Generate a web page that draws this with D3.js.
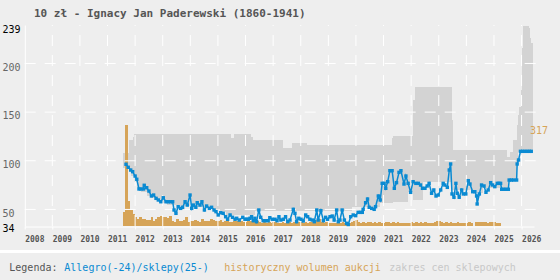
<!DOCTYPE html>
<html>
<head>
<meta charset="utf-8">
<script src="https://cdnjs.cloudflare.com/ajax/libs/d3/7.8.5/d3.min.js"></script>
<style>
    body { margin: 0; background: #fff; }
    svg { display: block; font-family: "DejaVu Sans Mono", monospace; }
</style>
</head>
<body>
<script>
    // tick labels
    var yearTicks = [2008, 2009, 2010, 2011, 2012, 2013, 2014, 2015, 2016, 2017, 2018, 2019, 2020, 2021, 2022, 2023, 2024, 2025, 2026];
    var priceTicks = [34, 50, 100, 150, 200, 239];
    var gridTicks = [50, 100, 150, 200];

    // Allegro / sklepy price: [year, zl]
    var priceSeries = [
        [2011.67, 96.4], [2011.75, 93.3], [2011.84, 90.5], [2011.91, 88.8], [2012.00, 84.3], [2012.06, 81],
        [2012.14, 71], [2012.21, 71], [2012.30, 71], [2012.33, 74.8], [2012.42, 72.3], [2012.50, 68.9],
        [2012.59, 63.8], [2012.67, 64.8], [2012.76, 61.4], [2012.84, 59.7], [2012.93, 57.9], [2013.02, 62],
        [2013.12, 57.9], [2013.20, 57.9], [2013.28, 57.9], [2013.36, 57.9], [2013.41, 49.4], [2013.48, 46],
        [2013.56, 52.8], [2013.65, 51.1], [2013.72, 52.2], [2013.81, 57.9], [2013.89, 54.5], [2013.99, 64.8],
        [2014.05, 51.1], [2014.11, 54.5], [2014.20, 52.2], [2014.25, 56.9], [2014.35, 54.5], [2014.42, 57.9],
        [2014.51, 49.4], [2014.59, 53.5], [2014.69, 51.1], [2014.77, 52.2], [2014.86, 49.4], [2014.93, 47.7],
        [2015.01, 44.3], [2015.10, 46.6], [2015.19, 46], [2015.28, 42.5], [2015.35, 39.9], [2015.44, 44.3],
        [2015.53, 41.9], [2015.62, 39.9], [2015.68, 40.9], [2015.77, 39.1], [2015.90, 41.9], [2015.98, 39.9],
        [2016.04, 39.9], [2016.10, 39.9], [2016.16, 40.9], [2016.22, 42.5], [2016.28, 38.4], [2016.34, 40.9],
        [2016.40, 37.4], [2016.48, 49.4], [2016.55, 41.9], [2016.64, 38.4], [2016.73, 38.4], [2016.82, 38.4],
        [2016.88, 41.5], [2016.97, 39.9], [2017.07, 39.9], [2017.14, 38.4], [2017.21, 42.5], [2017.28, 39.1],
        [2017.37, 39.9], [2017.45, 42.5], [2017.53, 37.4], [2017.61, 39.1], [2017.73, 50.1], [2017.79, 46],
        [2017.85, 37.4], [2017.93, 40.9], [2018.01, 39.9], [2018.09, 38.1], [2018.18, 44.3], [2018.25, 42.5],
        [2018.33, 39.9], [2018.42, 39.1], [2018.49, 37.4], [2018.58, 49.4], [2018.63, 39.1], [2018.73, 48.7],
        [2018.82, 38.4], [2018.90, 41.9], [2018.97, 39.9], [2019.06, 42.5], [2019.14, 43.2], [2019.21, 39.1],
        [2019.30, 49.4], [2019.36, 37.4], [2019.42, 39.1], [2019.50, 49.4], [2019.58, 39.1], [2019.66, 35.7],
        [2019.72, 34.5], [2019.81, 42.5], [2019.90, 44.3], [2019.99, 43.6], [2020.08, 47], [2020.16, 47],
        [2020.23, 47], [2020.26, 50.1], [2020.35, 56.9], [2020.42, 60.7], [2020.48, 52.2], [2020.57, 51.1],
        [2020.66, 50.1], [2020.71, 52.8], [2020.81, 63.8], [2020.88, 59.7], [2020.95, 76.8], [2021.02, 76.8],
        [2021.08, 71.7], [2021.15, 78.5], [2021.23, 89.8], [2021.31, 89.8], [2021.39, 71.7], [2021.47, 77.5],
        [2021.56, 88.1], [2021.63, 89.8], [2021.74, 76.1], [2021.81, 84.3], [2021.89, 76.8], [2021.98, 67.6],
        [2022.07, 78.5], [2022.17, 76.8], [2022.26, 76.8], [2022.34, 75.1], [2022.41, 71.7], [2022.50, 71.7],
        [2022.58, 74.1], [2022.65, 76.8], [2022.74, 66.6], [2022.82, 70], [2022.90, 63.8], [2022.98, 64.8],
        [2023.07, 70], [2023.16, 76.8], [2023.22, 75.1], [2023.31, 72.7], [2023.38, 90.5], [2023.43, 96.7],
        [2023.48, 65.9], [2023.55, 62.5], [2023.62, 76.8], [2023.67, 66.6], [2023.74, 62.5], [2023.83, 70],
        [2023.89, 65.9], [2023.98, 65.9], [2024.07, 79.5], [2024.13, 76.1], [2024.23, 68.2], [2024.31, 68.2],
        [2024.37, 63.8], [2024.39, 55.6], [2024.47, 65.9], [2024.55, 75.1], [2024.64, 74.1], [2024.71, 67.6],
        [2024.79, 70], [2024.88, 77.5], [2024.95, 75.1], [2025.03, 73.4], [2025.12, 76.8], [2025.18, 76.8],
        [2025.24, 76.8], [2025.28, 70.7], [2025.36, 70.7], [2025.43, 70.7], [2025.52, 70.7], [2025.55, 80.2],
        [2025.63, 80.2], [2025.71, 80.2], [2025.82, 80.2], [2025.84, 96.7], [2025.89, 100.8], [2025.96, 109.7],
        [2026.04, 109.7], [2026.12, 109.7], [2026.20, 109.7], [2026.28, 109.7], [2026.35, 109.7]
    ];

    // shop price range: [year, min, max] (step)
    var shopRange = [
        [2011.55, 92.6, 107.7], [2011.78, 88.5, 121.3], [2011.85, 84.3, 121.3], [2011.93, 84.3, 124.7],
        [2011.96, 78.2, 127.5], [2012.07, 72, 127.5], [2012.21, 68.2, 127.5], [2012.42, 63.8, 127.5],
        [2012.57, 61.7, 127.5], [2012.68, 59.7, 127.5], [2012.90, 56.6, 127.5], [2013.14, 54.5, 127.5],
        [2013.62, 53.5, 127.5], [2013.99, 52.2, 127.5], [2014.71, 50.1, 127.5], [2015.07, 47.4, 127.5],
        [2015.29, 44.3, 127.5], [2015.46, 44.3, 123.1], [2015.58, 44.3, 127.5], [2016.19, 44.3, 124.7],
        [2016.26, 44.3, 121.3], [2016.34, 48.4, 121.3], [2017.36, 48.4, 113.1], [2017.68, 48.4, 118.3],
        [2018.22, 48.4, 116.2], [2019.85, 52.5, 116.2], [2020.87, 56.6, 116.2], [2021.30, 56.6, 123.1],
        [2021.34, 57.9, 125.5], [2021.88, 68.2, 125.5], [2022.07, 59.7, 162.4], [2022.14, 59.7, 176.1],
        [2022.44, 78.5, 176.1], [2023.47, 70, 141.9], [2023.51, 70, 111.1], [2024.38, 66.6, 111.1],
        [2024.60, 72, 111.1], [2025.46, 72, 104.2], [2025.52, 79.2, 104.2], [2025.58, 79.2, 109.3],
        [2025.70, 79.2, 121.3], [2025.82, 96.7, 136.8], [2025.88, 109, 147], [2025.91, 109, 155.6],
        [2025.97, 109, 172.7], [2026.00, 109, 215.9], [2026.04, 109, 239], [2026.27, 109, 236.1],
        [2026.30, 109, 225.8], [2026.34, 109, 220.7], [2026.40, 109, 220.7]
    ];

    // monthly auction volume, first bar month
    var volumeStart = 2011.56;
    var volumes = [
        45, 317, 80, 50, 37, 29, 21, 29, 21, 21, 19, 19, 27, 17, 21, 27, 31, 27, 29, 24,
        31, 17, 13, 21, 17, 17, 19, 29, 13, 17, 17, 19, 17, 13, 21, 17, 17, 17, 21, 19,
        17, 17, 19, 13, 16, 16, 13, 13, 16, 16, 17, 17, 13, 13, 16, 16, 14, 13, 16, 13,
        10, 13, 10, 13, 10, 11, 13, 10, 10, 13, 10, 11, 13, 10, 13, 10, 11, 13, 10, 13,
        10, 13, 11, 14, 19, 21, 13, 10, 11, 8, 10, 8, 10, 8, 10, 13, 10, 8, 10, 11,
        17, 19, 13, 10, 11, 10, 11, 13, 10, 11, 10, 13, 10, 10, 11, 13, 10, 11, 10, 13,
        10, 10, 8, 10, 8, 11, 10, 13, 10, 11, 10, 11, 10, 8, 10, 13, 17, 17, 13, 10,
        13, 10, 11, 8, 10, 11, 10, 8, 10, 10, 11, 10, 0, 13, 13, 11, 13, 13, 10, 13,
        13, 11, 10, 8
    ];

    var W = 560, H = 280;
    var blue = "#0a8ad2", orange = "#d6a458", rangeGray = "#d3d3d3";

    var svg = d3.select("body").append("svg")
        .attr("width", W)
        .attr("height", H);

    svg.append("rect").attr("width", W).attr("height", H).attr("fill", "#fff");
    svg.append("rect").attr("width", W).attr("height", 250).attr("fill", "#eeeeee");
    svg.append("rect").attr("y", 253).attr("width", W).attr("height", 27).attr("fill", "#eeeeee");

    var x = d3.scaleLinear().domain([2008, 2026.45]).range([24.7, 534]);
    var y = d3.scaleLinear().domain([34, 239]).range([225, 25.5]);
    var yVol = d3.scaleLinear().domain([0, 317]).range([226, 125]);
    var monthW = x(2008 + 1 / 12) - x(2008);

    // title
    svg.append("text")
        .attr("x", 34).attr("y", 16.7)
        .attr("font-size", 11).attr("font-weight", "bold").attr("fill", "#555")
        .text("10 zł - Ignacy Jan Paderewski (1860-1941)");

    // shop price range
    var area = d3.area()
        .x(d => x(d[0]))
        .y0(d => y(d[1]))
        .y1(d => y(d[2]))
        .curve(d3.curveStepAfter);
    svg.append("path")
        .datum(shopRange)
        .attr("fill", rangeGray)
        .attr("shape-rendering", "crispEdges")
        .attr("d", area);

    // volume bars
    svg.append("g")
        .attr("shape-rendering", "crispEdges")
        .selectAll("rect")
        .data(volumes)
        .join("rect")
        .attr("x", (d, i) => x(volumeStart + i / 12))
        .attr("width", monthW + 0.4)
        .attr("y", d => yVol(d))
        .attr("height", d => yVol(0) - yVol(d))
        .attr("fill", orange);

    // grid
    svg.append("g").selectAll("line")
        .data(gridTicks)
        .join("line")
        .attr("x1", x(2008)).attr("x2", 540)
        .attr("y1", d => y(d)).attr("y2", d => y(d))
        .attr("stroke", "#fff").attr("stroke-width", 1)
        .attr("stroke-dasharray", "11,9");
    svg.append("g").selectAll("line")
        .data(yearTicks.slice(1))
        .join("line")
        .attr("x1", d => x(d)).attr("x2", d => x(d))
        .attr("y1", 226).attr("y2", 25)
        .attr("stroke", "#fff").attr("stroke-width", 1)
        .attr("stroke-dasharray", "11,9");

    // axes
    var xAxisG = svg.append("g")
        .attr("transform", "translate(0,226.5)")
        .call(d3.axisBottom(x).tickValues(yearTicks).tickSize(3).tickSizeOuter(0).tickFormat(d3.format("d")));
    xAxisG.select(".domain").attr("stroke", "#fff");
    xAxisG.selectAll(".tick line").attr("stroke", "#fff");
    xAxisG.selectAll(".tick text")
        .attr("text-anchor", "start")
        .attr("y", 15).attr("dy", null)
        .attr("font-family", "DejaVu Sans Mono, monospace")
        .attr("font-size", 8).attr("font-weight", "bold").attr("fill", "#555");

    svg.append("line")
        .attr("x1", 25.3).attr("x2", 25.3)
        .attr("y1", y(239)).attr("y2", 226.5)
        .attr("stroke", "#fff");

    svg.append("g").selectAll("text")
        .data(priceTicks)
        .join("text")
        .attr("x", 2.5)
        .attr("y", d => y(d) + 7.3)
        .attr("font-size", 10)
        .attr("fill", d => (d === 34 || d === 239) ? "#000" : "#666")
        .text(d => d);

    // price line
    var line = d3.line()
        .x(d => x(d[0]))
        .y(d => y(d[1]));
    svg.append("path")
        .datum(priceSeries)
        .attr("fill", "none")
        .attr("stroke", blue)
        .attr("stroke-width", 1.5)
        .attr("d", line);
    svg.append("g").selectAll("rect")
        .data(priceSeries)
        .join("rect")
        .attr("x", d => x(d[0]) - 1.7)
        .attr("y", d => y(d[1]) - 1.7)
        .attr("width", 3.4).attr("height", 3.4)
        .attr("fill", blue);

    // max volume label
    svg.append("text")
        .attr("x", 530)
        .attr("y", yVol(d3.max(volumes)) + 9)
        .attr("font-size", 10)
        .attr("fill", orange)
        .text(d3.max(volumes));

    // legend
    var legend = [
        { t: "Legenda:", x: 9.3, c: "#555" },
        { t: "Allegro(-24)/sklepy(25-)", x: 64.3, c: blue },
        { t: "historyczny wolumen aukcji", x: 224.3, c: orange },
        { t: "zakres cen sklepowych", x: 389.3, c: "#c8c8c8" }
    ];
    svg.append("g").selectAll("text")
        .data(legend)
        .join("text")
        .attr("x", d => d.x).attr("y", 271)
        .attr("font-size", 10)
        .attr("fill", d => d.c)
        .text(d => d.t);
</script>
</body>
</html>
